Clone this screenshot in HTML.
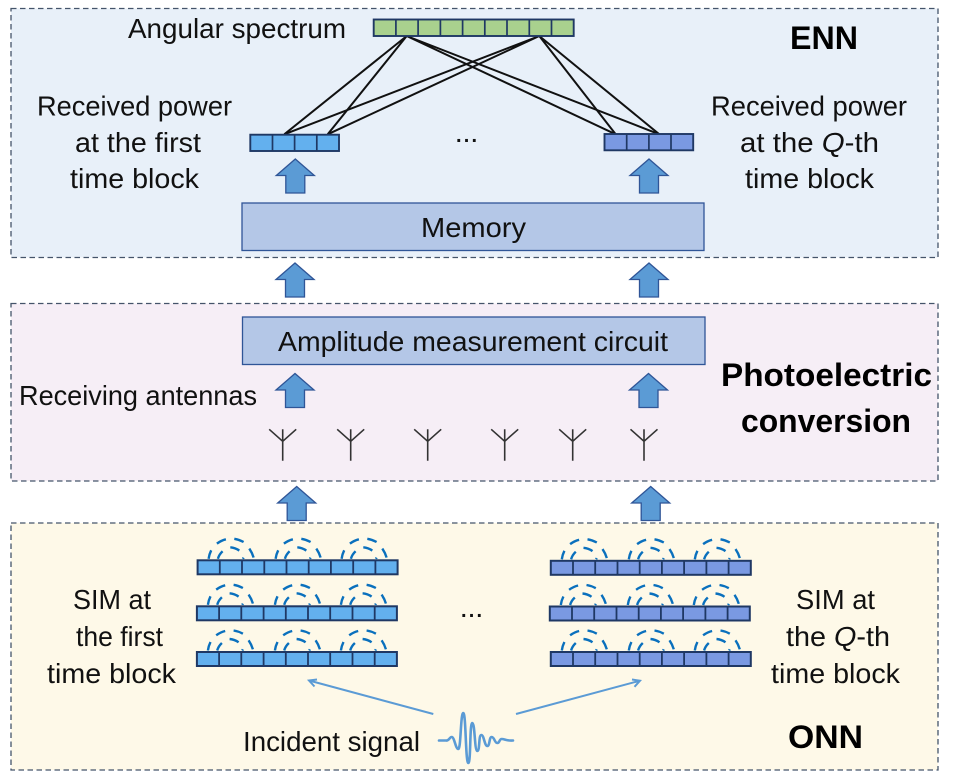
<!DOCTYPE html>
<html>
<head>
<meta charset="utf-8">
<style>
html,body{margin:0;padding:0;background:#fff;width:966px;height:783px;overflow:hidden}
svg{display:block}
text{font-family:"Liberation Sans",sans-serif;font-size:27.5px;fill:#111}
.b{font-weight:bold;font-size:32px;fill:#000}
</style>
</head>
<body>
<svg width="966" height="783" viewBox="0 0 966 783" xmlns="http://www.w3.org/2000/svg">
<defs>
  <g id="up"><path d="M0 0L19 16.5H9.5V34H-9.5V16.5H-19Z" fill="#5b9bd5" stroke="#2f5597" stroke-width="1.3" stroke-linejoin="miter"/></g>
  <g id="ant" stroke="#333" stroke-width="1.6" fill="none"><path d="M0 0V31.5M-13.5 0L0 12L13.5 0"/></g>
  <g id="arcs" fill="none" stroke="#0a70bd" stroke-width="2.4">
    <path d="M11 -1.5Q11.6 -6 13.6 -10"/>
    <path d="M19.3 -16.7Q23.5 -19.8 28.3 -21"/>
    <path d="M36.7 -21.5Q41.7 -20.7 46 -18.3"/>
    <path d="M51.7 -11.7Q54.6 -7.5 56 -2.7"/>
    <path d="M20.3 -1.5Q21.5 -5.8 25 -9"/>
    <path d="M32.7 -13Q37.7 -12.6 41.7 -9.7"/>
    <path d="M45.3 -1.5L46 -2.7"/>
  </g>
  <g id="cuts9" stroke="#1f3864" stroke-width="1.8">
    <path d="M22.2 0V14M44.4 0V14M66.7 0V14M88.9 0V14M111.1 0V14M133.3 0V14M155.6 0V14M177.8 0V14"/>
  </g>
  <g id="simL">
    <use href="#arcs"/><use href="#arcs" x="67"/><use href="#arcs" x="133"/>
    <rect x="0" y="0" width="200" height="14" fill="#63b0ee" stroke="#1f3864" stroke-width="2"/>
    <use href="#cuts9"/>
  </g>
  <g id="simR">
    <use href="#arcs"/><use href="#arcs" x="67"/><use href="#arcs" x="133"/>
    <rect x="0" y="0" width="200" height="14" fill="#7a99e2" stroke="#1f3864" stroke-width="2"/>
    <use href="#cuts9"/>
  </g>
</defs>

<!-- panels -->
<g stroke="#44546a" stroke-width="1.3" stroke-dasharray="5.5 3.5">
  <rect x="11" y="8.5" width="927" height="249" fill="#e8f0f9"/>
  <rect x="11" y="303.5" width="927" height="177.5" fill="#f6eef6"/>
  <rect x="11" y="523" width="927" height="247" fill="#fef9e8"/>
</g>

<!-- top bar and connections -->
<g stroke="#111" stroke-width="2" fill="none">
  <path d="M406.7 36L284.3 134.3M406.7 36L327.7 134.3M406.7 36L615.7 134.3M406.7 36L659.3 134.3"/>
  <path d="M539.3 36L284.3 134.3M539.3 36L327.7 134.3M539.3 36L615.7 134.3M539.3 36L659.3 134.3"/>
</g>
<rect x="373.7" y="19.5" width="200" height="16.5" fill="#a9d18e" stroke="#1f3864" stroke-width="1.9"/>
<path d="M395.9 19.5V36M418.1 19.5V36M440.4 19.5V36M462.6 19.5V36M484.8 19.5V36M507 19.5V36M529.3 19.5V36M551.5 19.5V36" stroke="#1f3864" stroke-width="1.7"/>

<rect x="250.3" y="134.7" width="88.7" height="16.3" fill="#63b0ee" stroke="#1f3864" stroke-width="1.9"/>
<path d="M272.5 134.7V151M294.6 134.7V151M316.8 134.7V151" stroke="#1f3864" stroke-width="1.7"/>
<rect x="604.5" y="134" width="88.7" height="16.3" fill="#7a99e2" stroke="#1f3864" stroke-width="1.9"/>
<path d="M626.7 134V150.3M648.9 134V150.3M671 134V150.3" stroke="#1f3864" stroke-width="1.7"/>

<!-- boxes -->
<rect x="242" y="203" width="462" height="47.5" fill="#b4c7e7" stroke="#2f5597" stroke-width="1.3"/>
<rect x="242.5" y="317" width="462.5" height="47.5" fill="#b4c7e7" stroke="#2f5597" stroke-width="1.3"/>

<!-- block arrows -->
<use href="#up" x="295.3" y="159"/><use href="#up" x="649" y="159"/>
<use href="#up" x="295" y="263"/><use href="#up" x="649" y="263"/>
<use href="#up" x="295" y="373.5"/><use href="#up" x="648.5" y="373.5"/>
<use href="#up" x="296.7" y="486.5"/><use href="#up" x="650.7" y="486.5"/>

<!-- antennas -->
<use href="#ant" x="282.7" y="429.3"/><use href="#ant" x="350.7" y="429.3"/><use href="#ant" x="427.7" y="429.3"/>
<use href="#ant" x="504.7" y="429.3"/><use href="#ant" x="572.7" y="429.3"/><use href="#ant" x="644" y="429.3"/>

<!-- SIM -->
<use href="#simL" x="197.6" y="560.3"/><use href="#simL" x="196.9" y="606.3"/><use href="#simL" x="196.9" y="652"/>
<use href="#simR" x="550.8" y="560.8"/><use href="#simR" x="549.8" y="606.5"/><use href="#simR" x="550.8" y="652"/>

<!-- incident -->
<g stroke="#5b9bd5" stroke-width="2" fill="none">
  <path d="M433.3 714L309 680.5M317 679.5L309 680.5L314.5 686.5"/>
  <path d="M516 714L640 680.7M632 679.5L640 680.7L634.5 686.8"/>
</g>
<path d="M439 740.5H446C449 741 449.500 737 451.700 737C454.500 737 455.500 749 458.300 749C461 749 460.500 713 463.300 713C466 713 465.500 763 468.300 763C471 763 469.500 723 472.300 723C475 723 474.500 751 477.300 751C480 751 478.500 735 481.300 735C484 735 484.500 746 487.300 746C490 746 489 737 491.700 737C494.500 737 494.500 743 497.300 743C500 743 499 739 501.700 739C505 739 506 741 513 740.500" fill="none" stroke="#5b9bd5" stroke-width="2.6" stroke-linecap="round"/>

<!-- labels -->
<text x="128" y="38" textLength="218" lengthAdjust="spacingAndGlyphs">Angular spectrum</text>
<text x="37" y="115.500" textLength="195" lengthAdjust="spacingAndGlyphs">Received power</text>
<text x="75" y="152" textLength="126" lengthAdjust="spacingAndGlyphs">at the first</text>
<text x="70" y="188" textLength="129" lengthAdjust="spacingAndGlyphs">time block</text>
<text x="711" y="115.500" textLength="196" lengthAdjust="spacingAndGlyphs">Received power</text>
<text x="740" y="152" textLength="139" lengthAdjust="spacingAndGlyphs">at the <tspan font-style="italic">Q</tspan>-th</text>
<text x="745" y="188" textLength="129" lengthAdjust="spacingAndGlyphs">time block</text>
<text class="b" x="790" y="49" textLength="68" lengthAdjust="spacingAndGlyphs">ENN</text>
<text x="456" y="142" textLength="21" lengthAdjust="spacing" font-weight="bold" style="font-size:20px">...</text>
<text x="421" y="237" textLength="105" lengthAdjust="spacingAndGlyphs">Memory</text>
<text x="278" y="351" textLength="390" lengthAdjust="spacingAndGlyphs">Amplitude measurement circuit</text>
<text x="19" y="405" textLength="238" lengthAdjust="spacingAndGlyphs">Receiving antennas</text>
<text class="b" x="721" y="386" textLength="211" lengthAdjust="spacingAndGlyphs">Photoelectric</text>
<text class="b" x="741" y="432" textLength="170" lengthAdjust="spacingAndGlyphs">conversion</text>
<text x="73" y="609" textLength="78" lengthAdjust="spacingAndGlyphs">SIM at</text>
<text x="76" y="646" textLength="87" lengthAdjust="spacingAndGlyphs">the first</text>
<text x="47" y="683" textLength="129" lengthAdjust="spacingAndGlyphs">time block</text>
<text x="796" y="609" textLength="79" lengthAdjust="spacingAndGlyphs">SIM at</text>
<text x="786" y="646" textLength="104" lengthAdjust="spacingAndGlyphs">the <tspan font-style="italic">Q</tspan>-th</text>
<text x="771" y="683" textLength="129" lengthAdjust="spacingAndGlyphs">time block</text>
<text x="461" y="617" textLength="21" lengthAdjust="spacing" font-weight="bold" style="font-size:20px">...</text>
<text x="243" y="751" textLength="177" lengthAdjust="spacingAndGlyphs">Incident signal</text>
<text class="b" x="788" y="748" textLength="75" lengthAdjust="spacingAndGlyphs">ONN</text>
</svg>
</body>
</html>
